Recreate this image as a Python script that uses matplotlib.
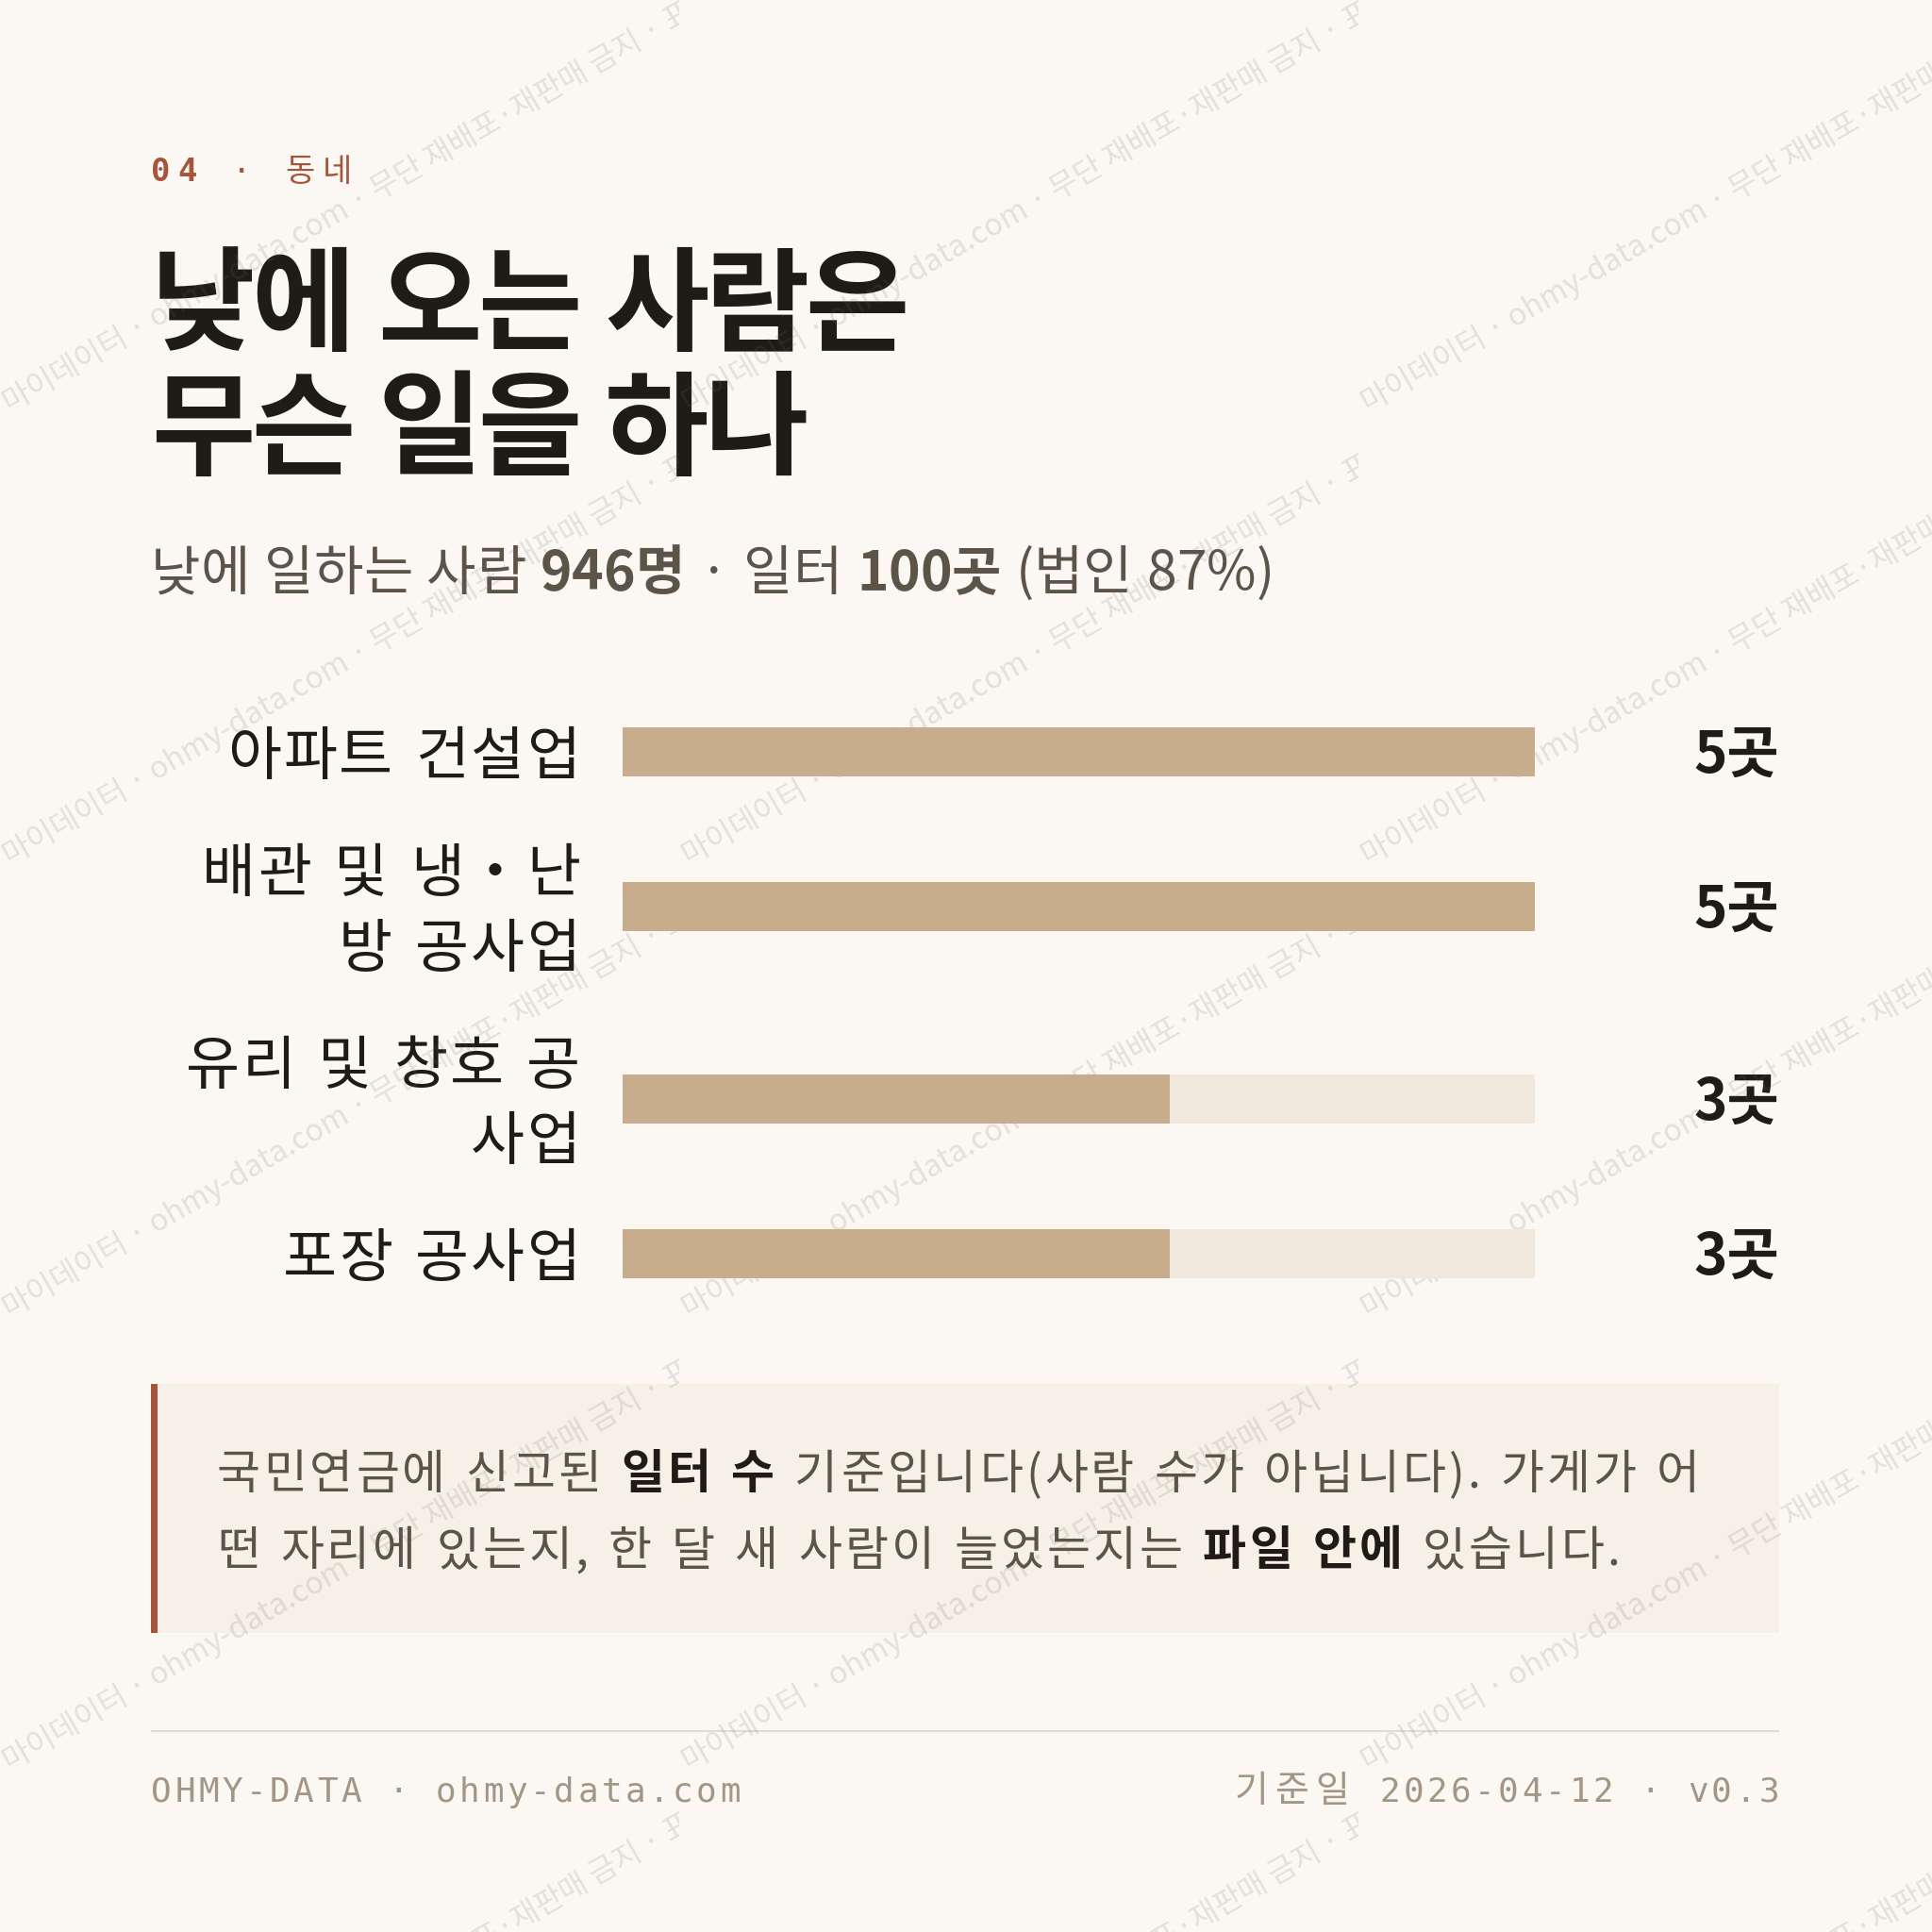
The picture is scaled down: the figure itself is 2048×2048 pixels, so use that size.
import matplotlib
matplotlib.use("Agg")
import matplotlib.pyplot as plt
from matplotlib.font_manager import FontProperties
from matplotlib.patches import Rectangle
from matplotlib.transforms import Bbox

# ---------------- data ----------------
section_no = "04"
section_name = "동네"
title_lines = ["낮에 오는 사람은", "무슨 일을 하나"]
subtitle_runs = [("낮에 일하는 사람 ", False), ("946명", True), (" · 일터 ", False),
                 ("100곳", True), (" (법인 87%)", False)]
categories = ["아파트 건설업", "배관 및 냉・난\n방 공사업", "유리 및 창호 공\n사업", "포장 공사업"]
counts = [5, 5, 3, 3]
count_unit = "곳"
note_lines = [
    [("국민연금에 신고된 ", False), ("일터 수", True), (" 기준입니다(사람 수가 아닙니다). 가게가 어", False)],
    [("떤 자리에 있는지, 한 달 새 사람이 늘었는지는 ", False), ("파일 안에", True), (" 있습니다.", False)],
]
footer_left = "OHMY-DATA · ohmy-data.com"
footer_right_kr = "기준일"
footer_right = "2026-04-12 · v0.3"
watermark = "· 마이데이터 · ohmy-data.com · 무단 재배포·재판매 금지 · 표본 · 마이데이터"

# ---------------- style ----------------
W = H = 2048
DPI = 100
BG = "#FBF8F3"
RUST = "#A4553B"
INK = "#1F1B17"
SUB = "#5C5349"
BAR = "#C8AD8C"
TRACK = "#F0E8DC"
NOTE_BG = "#F6F0E7"
RULE = "#E4DBCC"
FOOT = "#A39685"

KR = "Noto Sans CJK KR"
MONO = "DejaVu Sans Mono"


def pt(px):
    return px * 72.0 / DPI


def fp(px, weight="normal", family=(KR, "DejaVu Sans")):
    return FontProperties(family=list(family), size=pt(px), weight=weight)


fig = plt.figure(figsize=(W / DPI, H / DPI), dpi=DPI, facecolor=BG)
ax = fig.add_axes([0, 0, 1, 1])
ax.set_xlim(0, W)
ax.set_ylim(H, 0)
ax.axis("off")
renderer = fig.canvas.get_renderer()


def adv(s, prop):
    w1 = renderer.get_text_width_height_descent("H" + s + "H", prop, ismath=False)[0]
    w0 = renderer.get_text_width_height_descent("HH", prop, ismath=False)[0]
    return w1 - w0


def draw_runs(x, y, runs, ha="left", track=0.0, space_extra=0.0, zorder=3):
    pieces = []
    for run in runs:
        text, prop, color = run[:3]
        tr = run[3] if len(run) > 3 else track
        if tr or space_extra:
            for ch in text:
                a = adv(ch, prop) + tr + (space_extra if ch == " " else 0)
                pieces.append((ch, prop, color, a))
        else:
            pieces.append((text, prop, color, adv(text, prop)))
    total = sum(p[3] for p in pieces) - track
    if ha == "right":
        cx = x - total
    elif ha == "center":
        cx = x - total / 2
    else:
        cx = x
    for text, prop, color, a in pieces:
        if text.strip():
            ax.text(cx, y, text, fontproperties=prop, color=color,
                    ha="left", va="baseline", zorder=zorder)
        cx += a


LEFT = 160
RIGHT = 1886

# header
draw_runs(LEFT, 192, [
    (section_no, fp(34, "bold", (MONO, KR)), RUST),
    (" · ", fp(34, "normal", (MONO, KR)), RUST),
    (section_name, fp(34, "normal", (MONO, KR)), RUST),
], track=8)

# title
title_prop = fp(120, "bold")
for i, line in enumerate(title_lines):
    draw_runs(LEFT, 362 + i * 132, [(line, title_prop, INK)], track=-4.5, space_extra=6)

# subtitle
sub_runs = [(t, fp(57, "bold" if b else "normal"), SUB) for t, b in subtitle_runs]
draw_runs(LEFT, 625, sub_runs, track=0.0, space_extra=2.5)

# ---------------- bars ----------------
LINE_H = 80
GAP = 44
centers = []
ytop = 757
for c in categories:
    h = LINE_H * len(c.split("\n"))
    centers.append(ytop + h / 2)
    ytop += h + GAP

BAR_X0, BAR_X1 = 660, 1627
bax = fig.add_axes([BAR_X0 / W, 0, (BAR_X1 - BAR_X0) / W, 1])
bax.set_xlim(0, max(counts))
bax.set_ylim(H, 0)
bax.axis("off")
bax.patch.set_alpha(0)
bax.barh(centers, [max(counts)] * len(counts), height=52, color=TRACK, zorder=1)
bax.barh(centers, counts, height=52, color=BAR, zorder=2)

label_prop = fp(62)
value_prop = fp(60, "bold")
for c, yc, v in zip(categories, centers, counts):
    lines = c.split("\n")
    n = len(lines)
    for k, ln in enumerate(lines):
        lc = yc + (k - (n - 1) / 2) * LINE_H
        draw_runs(615, lc + 24, [(ln, label_prop, INK)], ha="right",
                  track=2, space_extra=6)
    draw_runs(RIGHT, yc + 22, [(f"{v}{count_unit}", value_prop, INK)], ha="right")

# ---------------- note box ----------------
ax.add_patch(Rectangle((LEFT, 1467), RIGHT - LEFT, 264, facecolor=NOTE_BG,
                       edgecolor="none", zorder=1))
ax.add_patch(Rectangle((LEFT, 1467), 7, 264, facecolor=RUST, edgecolor="none", zorder=2))
for i, line in enumerate(note_lines):
    runs = [(t, fp(50, "bold" if b else "normal"), INK if b else SUB) for t, b in line]
    draw_runs(230, 1578 + i * 81, runs, track=3, space_extra=4)

# ---------------- footer ----------------
ax.plot([LEFT, RIGHT], [1835, 1835], color=RULE, lw=1.5, zorder=2,
        solid_capstyle="butt")
foot_prop = fp(36, "normal", (MONO, KR))
draw_runs(LEFT, 1910, [(footer_left, foot_prop, FOOT)], track=3.5)
draw_runs(RIGHT, 1910, [(footer_right_kr, fp(39, "light", (KR, MONO)), FOOT, 7),
                        (" ", foot_prop, FOOT, 3.5),
                        (footer_right, foot_prop, FOOT, 3.5)], ha="right", track=3.5)

# ---------------- watermark ----------------
wm_prop = fp(32)
TW, TH = 720, 480
for i in range(0, 3):
    for j in range(-1, 5):
        x0, y0 = TW * i, TH * j
        t = ax.text(x0 - 12, y0 + 450, watermark, fontproperties=wm_prop,
                    color="#6E665C", alpha=0.17, rotation=30,
                    rotation_mode="anchor", ha="left", va="baseline", zorder=20)
        t.set_clip_box(Bbox([[x0, H - (y0 + TH)], [x0 + TW, H - y0]]))
        t.set_clip_on(True)

fig.savefig("out.png", dpi=DPI, facecolor=BG)
